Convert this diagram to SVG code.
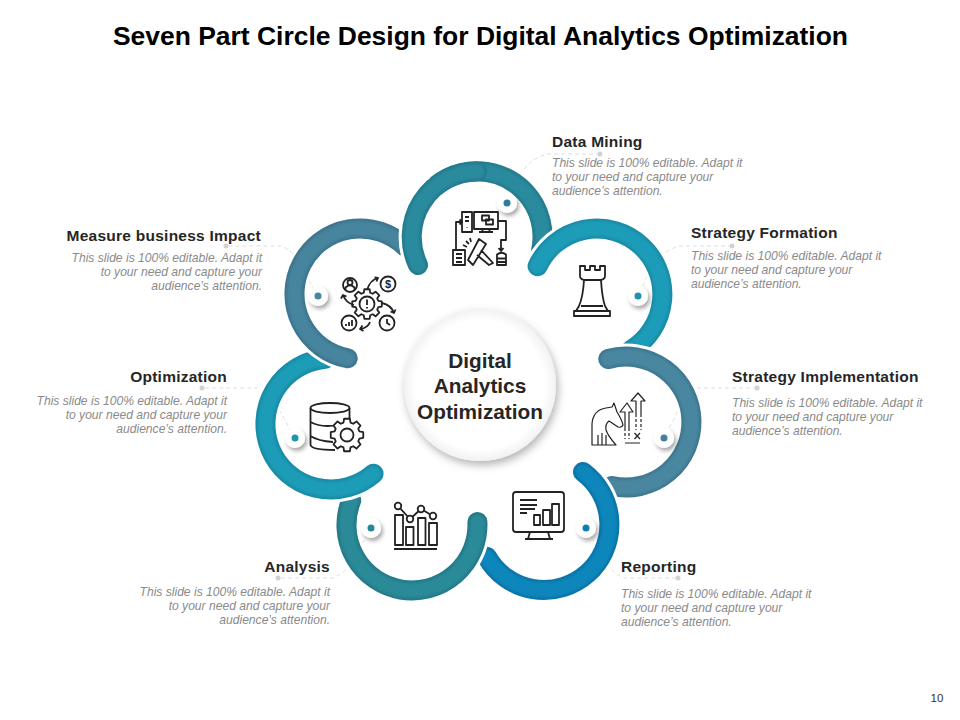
<svg xmlns="http://www.w3.org/2000/svg" width="960" height="720" viewBox="0 0 960 720">
<style>
text{font-family:"Liberation Sans",Arial,sans-serif}
.title{font-size:26.45px;font-weight:700;fill:#000;text-anchor:middle}
.h{font-size:15.5px;font-weight:700;fill:#262626;letter-spacing:.25px}
.b{font-size:12.1px;font-style:italic;fill:#8a8a8a}
.e{text-anchor:end}
.c{font-size:20.8px;font-weight:700;fill:#262626;text-anchor:middle}
.halo,.base,.lite{fill:none;stroke-linecap:round}
.halo{stroke:#fff;stroke-width:26}
.base{stroke-width:20}
.lite{stroke-width:15;filter:url(#soft)}
.disc{fill:#fff;filter:url(#ds)}
.lead{fill:none;stroke:#dedede;stroke-width:1;stroke-dasharray:4 3}
.ldot{fill:#d2d2d2}
.i{fill:none;stroke:#222;stroke-width:1.8;stroke-linejoin:round}
.w{fill:#fff}
.g{vector-effect:non-scaling-stroke}
</style>
<defs>
<filter id="soft" x="-20%" y="-20%" width="140%" height="140%"><feGaussianBlur stdDeviation="1.6"/></filter>
<filter id="ds" x="-60%" y="-60%" width="220%" height="220%"><feDropShadow dx="2" dy="3" stdDeviation="2" flood-color="#000" flood-opacity=".35"/></filter>
<filter id="cs" x="-20%" y="-20%" width="140%" height="140%"><feDropShadow dx="2" dy="4" stdDeviation="4" flood-color="#000" flood-opacity=".3"/></filter>
<radialGradient id="cg"><stop offset=".85" stop-color="#fff"/><stop offset="1" stop-color="#f2f2f2"/></radialGradient>
<path id="a1" d="M418,265A65.5,65.5 0 1 1 541.2,250"/>
<path id="a1c" d="M418,265A65.5,65.5 0 0 1 477,171.5"/>
<path id="a1h" d="M418,265A65.5,65.5 0 0 1 430.7,190.7"/>
<path id="a2" d="M537.6,266.2A65.5,65.5 0 1 1 631,350"/>
<path id="a3" d="M608.3,359A65.5,65.5 0 1 1 611.7,486"/>
<path id="a4" d="M583,472A65.5,65.5 0 1 1 487,557"/>
<path id="a5" d="M477.4,522A65.5,65.5 0 1 1 351.2,500.5"/>
<path id="a6" d="M373.6,473.7A65.5,65.5 0 1 1 325,358.8"/>
<path id="a7" d="M347.7,358.3A65.5,65.5 0 1 1 405,246.4"/>
<polygon id="gear" class="g" points="75,-21.5 98.5,-17.4 98.5,17.4 75,21.5 68.2,37.8 81.9,57.4 57.4,81.9 37.8,68.2 21.5,75 17.4,98.5 -17.4,98.5 -21.5,75 -37.8,68.2 -57.4,81.9 -81.9,57.4 -68.2,37.8 -75,21.5 -98.5,17.4 -98.5,-17.4 -75,-21.5 -68.2,-37.8 -81.9,-57.4 -57.4,-81.9 -37.8,-68.2 -21.5,-75 -17.4,-98.5 17.4,-98.5 21.5,-75 37.8,-68.2 57.4,-81.9 81.9,-57.4 68.2,-37.8"/>
</defs>
<rect width="960" height="720" fill="#fff"/>
<text class="title" x="480.500" y="45">Seven Part Circle Design for Digital Analytics Optimization</text>
<g id="connectors">
<path class="lead" d="M600,154H548Q528,158 518,180L507,203"/>
<path class="lead" d="M732,246H680Q662,250 650,270L638,296"/>
<path class="lead" d="M757,388H698Q682,396 676,415L664,438"/>
<path class="lead" d="M586,528L605,560Q612,574 625,578H678"/>
<path class="lead" d="M371,528L352,562Q345,574 332,578H278"/>
<path class="lead" d="M295,438L282,415Q270,392 258,388H202"/>
<path class="lead" d="M318,296L303,270Q295,250 280,246H226"/>
<circle class="ldot" cx="600" cy="154" r="2.5"/>
<circle class="ldot" cx="732" cy="246" r="2.5"/>
<circle class="ldot" cx="757" cy="388" r="2.5"/>
<circle class="ldot" cx="678" cy="578" r="2.5"/>
<circle class="ldot" cx="278" cy="578" r="2.5"/>
<circle class="ldot" cx="202" cy="388" r="2.5"/>
<circle class="ldot" cx="226" cy="246" r="2.5"/>
</g>
<g id="node-data-mining">
<use href="#a1" class="halo"/><use href="#a1" class="base" stroke="#227a8c"/><use href="#a1" class="lite" stroke="#2a8b9e"/>
<circle class="disc" cx="507" cy="203" r="10"/><circle cx="507" cy="203" r="3.5" fill="#2b7f98"/>
<g class="i">
<rect x="462" y="212" width="10" height="20"/><path d="M465,217h4M465,221h4M467,227v.5"/>
<rect x="474" y="212" width="24" height="17"/><path d="M483,229l-1,3M489,229l1,3M479,232h14"/>
<rect x="482" y="215.500" width="7" height="5"/><rect x="486" y="219.500" width="7" height="5"/>
<rect x="453" y="250" width="12" height="15"/><path d="M456,254h6M456,258h6M456,262h6"/>
<path d="M497,254.500Q501.500,251 506,254.500V265H497ZM497,258.500h9M497,262h9"/>
<path d="M456,250V222H462M459.500,219.500L462,222L459.500,224.500"/>
<path d="M498,221H506V240H501V251M498.500,248L501,251L503.500,248"/>
<path d="M468,260L479,239L486,244L473,265ZM481,250L493,263L489,265L477,255"/>
<path d="M463,245l4,2M466,241l3,3M470,238l1,4"/>
</g>
<text class="h" x="552" y="147">Data Mining</text>
<text class="b" x="552" y="167">This slide is 100% editable. Adapt it</text>
<text class="b" x="552" y="181">to your need and capture your</text>
<text class="b" x="552" y="195">audience’s attention.</text>
</g>
<g id="node-strategy-formation">
<use href="#a2" class="halo"/><use href="#a2" class="base" stroke="#1a8ba6"/><use href="#a2" class="lite" stroke="#1e9cb8"/>
<circle class="disc" cx="638" cy="296" r="10"/><circle cx="638" cy="296" r="3.5" fill="#2191ad"/>
<g class="i">
<path d="M580,266H585V270H590V266H595V270H600V266H605V276Q605,279 601,280Q602,297 605,306L608,311H576L579,306Q583,297 584,280Q580,279 580,276ZM581,306H603M584,280H601"/>
<rect x="574" y="311" width="36" height="5"/>
</g>
<text class="h" x="691" y="238">Strategy Formation</text>
<text class="b" x="691" y="260">This slide is 100% editable. Adapt it</text>
<text class="b" x="691" y="274">to your need and capture your</text>
<text class="b" x="691" y="288">audience’s attention.</text>
</g>
<g id="node-strategy-implementation">
<use href="#a3" class="halo"/><use href="#a3" class="base" stroke="#3e768e"/><use href="#a3" class="lite" stroke="#4a87a0"/>
<circle class="disc" cx="664" cy="438" r="10"/><circle cx="664" cy="438" r="3.5" fill="#44809a"/>
<g class="i" style="stroke-width:1.200">
<path d="M592,445V424Q593,410 606,408L612,407L614,403L617,412Q622,420 623,425Q622,428 618,427L609,421Q605,424 606,430Q608,436 616,445ZM598,445V435M602,445V433M606,445V435"/>
<path d="M625,431V412H620L627,403L633,412H629V431"/>
<path d="M636,417V401H631L638,393L645,401H641V417"/>
<path d="M625,433v6M629,433v6M636,419v11M641,419v11" stroke-dasharray="3 2"/>
<path d="M634.500,433l5.500,6M640,433l-5.500,6M625,443H640"/>
</g>
<text class="h" x="732" y="382">Strategy Implementation</text>
<text class="b" x="732" y="407">This slide is 100% editable. Adapt it</text>
<text class="b" x="732" y="421">to your need and capture your</text>
<text class="b" x="732" y="435">audience’s attention.</text>
</g>
<g id="node-reporting">
<use href="#a4" class="halo"/><use href="#a4" class="base" stroke="#0b74a6"/><use href="#a4" class="lite" stroke="#0e86bc"/>
<circle class="disc" cx="586" cy="528" r="10"/><circle cx="586" cy="528" r="3.5" fill="#0e7fb3"/>
<g class="i">
<rect x="513" y="492" width="51" height="40" rx="3"/>
<path d="M530,532L528,539M548,532L550,539M525,539H553M520,500H537M520,505H537M520,509H535M520,513H527"/>
<rect x="534" y="515" width="6" height="10"/><rect x="543" y="510" width="7" height="15"/><rect x="552" y="504" width="7" height="21"/>
</g>
<text class="h" x="621" y="572">Reporting</text>
<text class="b" x="621" y="598">This slide is 100% editable. Adapt it</text>
<text class="b" x="621" y="612">to your need and capture your</text>
<text class="b" x="621" y="626">audience’s attention.</text>
</g>
<g id="node-analysis">
<use href="#a5" class="halo"/><use href="#a5" class="base" stroke="#237886"/><use href="#a5" class="lite" stroke="#2c8a98"/>
<circle class="disc" cx="371" cy="528" r="10"/><circle cx="371" cy="528" r="3.5" fill="#258799"/>
<g class="i">
<rect x="395" y="515" width="8" height="30"/><rect x="406" y="527" width="7.500" height="18"/><rect x="418" y="518" width="7.500" height="27"/><rect x="429" y="523" width="8" height="22"/>
<path d="M394,549H437"/>
<polyline points="398,506 410,519 421,509 433,516"/>
<circle class="w" cx="398" cy="506" r="3.300"/><circle class="w" cx="410" cy="519" r="3.300"/><circle class="w" cx="421" cy="509" r="3.300"/><circle class="w" cx="433" cy="516" r="3.300"/>
</g>
<text class="h e" x="330" y="572">Analysis</text>
<text class="b e" x="330" y="596">This slide is 100% editable. Adapt it</text>
<text class="b e" x="330" y="610">to your need and capture your</text>
<text class="b e" x="330" y="624">audience’s attention.</text>
</g>
<g id="node-optimization">
<use href="#a6" class="halo"/><use href="#a6" class="base" stroke="#188aa4"/><use href="#a6" class="lite" stroke="#1c9cb7"/>
<circle class="disc" cx="295" cy="438" r="10"/><circle cx="295" cy="438" r="3.5" fill="#2095ae"/>
<g class="i">
<ellipse cx="330" cy="408" rx="19.500" ry="5"/>
<path d="M310.500,408V445Q312,450 335,450M349.500,408V425M310.500,422Q325,430 349,422M310.500,436Q318,441 333,442"/>
<use href="#gear" class="w" transform="translate(347,435) scale(.165)"/>
<circle cx="347" cy="435" r="6.500"/>
</g>
<text class="h e" x="227" y="382">Optimization</text>
<text class="b e" x="227" y="405">This slide is 100% editable. Adapt it</text>
<text class="b e" x="227" y="419">to your need and capture your</text>
<text class="b e" x="227" y="433">audience’s attention.</text>
</g>
<g id="node-measure">
<use href="#a7" class="halo"/><use href="#a7" class="base" stroke="#3b748c"/><use href="#a7" class="lite" stroke="#47849d"/>
<circle class="disc" cx="318" cy="296" r="10"/><circle cx="318" cy="296" r="3.5" fill="#47849d"/>
<g class="i">
<use href="#gear" transform="translate(367,304) scale(.15)"/>
<circle cx="367" cy="304" r="7.500"/><path d="M367,299.500V305M367,307v1.500"/>
<circle cx="350" cy="285" r="7"/><circle cx="350" cy="282.500" r="2.500"/><path d="M345.500,290V287.500Q350,283 354.500,287.500V290"/>
<circle cx="388" cy="284" r="7.500"/>
<circle cx="349" cy="323" r="7.500"/><path d="M346,326v-2M349,326v-4M352,326v-6"/>
<circle cx="387" cy="323" r="7.500"/><path d="M387,319v4l3,2"/>
<path d="M367,290Q370,280 378,278M374.500,277.500L378,278L376.500,281.500"/>
<path d="M382,303Q391,305 394,313M390.500,311.500L394,313L395.500,309.500"/>
<path d="M370,322Q368,328 360,329M362.500,325.500L360,329L363.500,331"/>
<path d="M354,305Q346,303 343,295M341,298.500L343,295L346.500,296.500"/>
</g>
<text x="388" y="288" font-size="11" font-weight="700" fill="#222" text-anchor="middle">$</text>
<text class="h e" x="261" y="241">Measure business Impact</text>
<text class="b e" x="262" y="262">This slide is 100% editable. Adapt it</text>
<text class="b e" x="262" y="276">to your need and capture your</text>
<text class="b e" x="262" y="290">audience’s attention.</text>
</g>
<g id="node-data-mining-cap">
<use href="#a1h" class="halo"/><use href="#a1c" class="base" stroke="#227a8c"/><use href="#a1c" class="lite" stroke="#2a8b9e"/>
</g>
<g id="node-center">
<circle cx="480" cy="385" r="76" fill="url(#cg)" filter="url(#cs)"/>
<text class="c" x="480" y="368">Digital</text>
<text class="c" x="480" y="393">Analytics</text>
<text class="c" x="480" y="419">Optimization</text>
</g>
<text x="937" y="702" font-size="11.500" fill="#333" text-anchor="middle">10</text>
</svg>
